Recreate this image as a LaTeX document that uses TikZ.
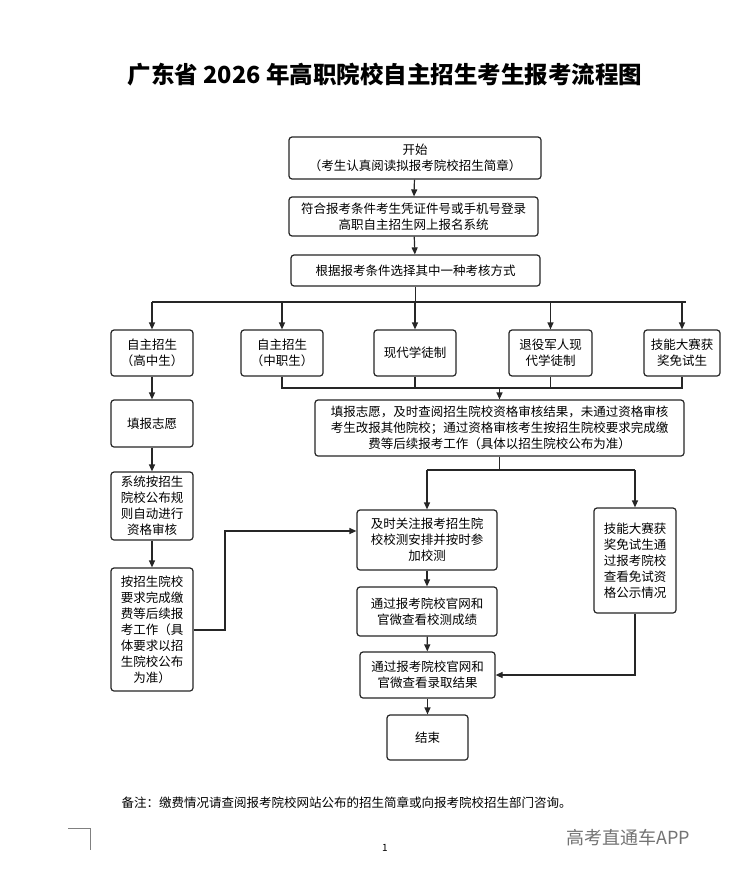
\documentclass[tikz,border=0pt]{standalone}
\usepackage{fontspec}
\setmainfont{Noto Sans CJK SC}
\usetikzlibrary{arrows.meta}
\begin{document}
\begin{tikzpicture}[x=1pt,y=-1pt,
  box/.style={draw=black!85, line width=1.2pt, rounded corners=3pt, align=center, inner sep=0pt,
    font=\fontsize{12.5}{16}\selectfont},
  ar/.style={-{Triangle[length=7pt,width=6pt]}, line width=1.2pt, draw=black!85},
  ln/.style={line width=1.2pt, draw=black!85}]
\useasboundingbox (0,0) rectangle (742,878);
\fill[white] (0,0) rectangle (742,878);
\newcommand{\bx}[6]{\node[box, minimum width=#4-#2, minimum height=#5-#3] (#1) at ({(#2+#4)/2},{(#3+#5)/2}) {#6};}
\node (title) at (385,75) {\fontsize{23.5}{26}\selectfont\bfseries 广东省 2026 年高职院校自主招生考生报考流程图};
\bx{start}{289}{137}{541}{179}{开始\\（考生认真阅读拟报考院校招生简章）}
\bx{login}{289}{197}{538}{236}{符合报考条件考生凭证件号或手机号登录\\高职自主招生网上报名系统}
\bx{choose}{291}{255}{540}{286}{根据报考条件选择其中一种考核方式}
\bx{a1}{111}{330}{193}{376}{自主招生\\（高中生）}
\bx{a2}{241}{330}{323}{376}{自主招生\\（中职生）}
\bx{a3}{374}{330}{456}{376}{现代学徒制}
\bx{a4}{509}{330}{592}{376}{退役军人现\\代学徒制}
\bx{a5}{644}{330}{720}{376}{技能大赛获\\奖免试生}
\bx{hfill}{111}{400}{193}{447}{填报志愿}
\bx{sys}{111}{472}{193}{540}{系统按招生\\院校公布规\\则自动进行\\资格审核}
\bx{pay}{111}{568}{193}{691}{按招生院校\\要求完成缴\\费等后续报\\考工作（具\\体要求以招\\生院校公布\\为准）}
\bx{fill}{315}{400}{684}{456}{填报志愿，及时查阅招生院校资格审核结果，未通过资格审核\\考生改报其他院校；通过资格审核考生按招生院校要求完成缴\\费等后续报考工作（具体以招生院校公布为准）}
\bx{attend}{357}{510}{497}{570}{及时关注报考招生院\\校校测安排并按时参\\加校测}
\bx{score}{357}{587}{497}{636}{通过报考院校官网和\\官微查看校测成绩}
\bx{admit}{360}{652}{495}{698}{通过报考院校官网和\\官微查看录取结果}
\bx{fin}{387}{715}{468}{760}{结束}
\bx{skill}{594}{508}{676}{613}{技能大赛获\\奖免试生通\\过报考院校\\查看免试资\\格公示情况}
\draw[ar] (start) -- (login);
\draw[ar] (login) -- (choose);
\coordinate (br) at (choose.south |- 0,302);
\draw[ln] (choose.south) -- (br);
\draw[ln] (152,302) -- (686,302);
\foreach \n in {a1,a2,a3,a4,a5} \draw[ar] (\n.north |- br) -- (\n.north);
\draw[ln] (a2.south) -- (a2.south |- 0,388) -- (a5.south |- 0,388) -- (a5.south);
\draw[ln] (a3.south) -- (a3.south |- 0,388);
\draw[ln] (a4.south) -- (a4.south |- 0,388);
\draw[ar] (fill.north |- 0,388) -- (fill.north);
\draw[ar] (a1) -- (hfill);
\draw[ar] (hfill) -- (sys);
\draw[ar] (sys) -- (pay);
\draw[ln] (fill.south) -- (fill.south |- 0,470);
\draw[ln] (attend.north |- 0,470) -- (skill.north |- 0,470);
\draw[ar] (attend.north |- 0,470) -- (attend.north);
\draw[ar] (skill.north |- 0,470) -- (skill.north);
\draw[ar] (pay.east |- 0,630) -- (225,630) -- (225,531) -- (attend.west |- 0,531);
\draw[ar] (attend) -- (score);
\draw[ar] (score) -- (admit);
\draw[ar] (admit) -- (fin);
\draw[ar] (skill.south) -- (skill.south |- 0,675) -- (admit.east |- 0,675);
\node[anchor=west, font=\fontsize{12.5}{14}\selectfont] (note) at (118,803) {备注：缴费情况请查阅报考院校网站公布的招生简章或向报考院校招生部门咨询。};
\node[font=\fontsize{10}{12}\selectfont] (pg) at (385,848) {1};
\node[anchor=west, text=black!55, font=\fontsize{18}{20}\selectfont] (wm) at (563,838) {高考直通车APP};
\draw[black!50, line width=0.6pt] (68,828) -- (90,828) -- (90,850);
\end{tikzpicture}
\end{document}
